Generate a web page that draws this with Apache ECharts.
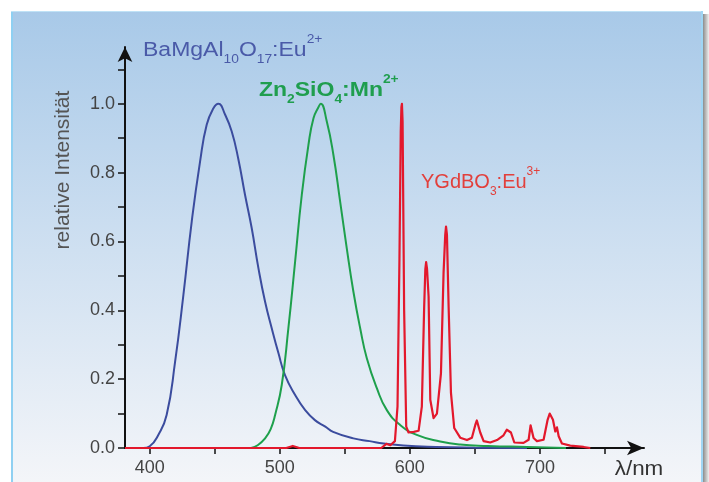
<!DOCTYPE html>
<html>
<head>
<meta charset="utf-8">
<script src="https://cdn.jsdelivr.net/npm/echarts@6/dist/echarts.min.js"></script>
<style>
html,body{margin:0;padding:0;background:#fff;}
#spektrum{width:709px;height:482px;}
</style>
</head>
<body>
<div id="spektrum"></div>
<script>
// BaMgAl10O17:Eu2+ (blau)
var blueNm=[395,400,406.6,413,419.5,425.9,432.3,438.7,443.8,449,452.8,458,463,468,473.3,478.4,483.6,488.7,493.8,499,504,511.8,519.5,527,535,541,556.6,569,580,595,620,650,690];
var blueVal=[0,0.005,0.038,0.096,0.25,0.445,0.658,0.832,0.939,0.987,1.0,0.968,0.92,0.842,0.735,0.639,0.522,0.425,0.348,0.275,0.212,0.154,0.11,0.081,0.062,0.047,0.028,0.02,0.013,0.007,0.003,0.001,0];
// Zn2SiO4:Mn2+ (gruen)
var greenNm=[478,483,488.7,493,496.4,501.5,506.6,511.8,516.9,522,525.9,529.7,531.5,536.1,541.2,546.4,551.5,556.6,561.8,566.9,574.6,582.3,592.5,605.3,623.3,638.7,660,690,720];
var greenVal=[0,0.008,0.028,0.055,0.096,0.183,0.348,0.542,0.735,0.88,0.958,0.99,1.0,0.949,0.852,0.716,0.58,0.454,0.348,0.261,0.174,0.11,0.067,0.038,0.019,0.01,0.006,0.003,0];
// YGdBO3:Eu3+ (rot)
var redNm=[381,505,510,515,578,582,585,588.5,590.5,592,593,593.5,593.9,594.4,595.6,597.2,599,603,606.7,609.2,611,611.9,612.5,613.2,614.4,615.7,618.2,620.8,623.9,625.9,627.2,627.8,628.5,629.8,631.6,634.1,638.7,643.9,647.7,650.3,651.5,652.4,654.1,656.7,661.8,667,672,674.5,675.8,677.7,680.3,687.4,691.3,692.8,693.6,695.1,697.7,702.8,705.9,707.5,708.5,710,711.8,713.1,714.4,716.9,723.3,733.6,738.7];
var redVal=[0,0,0.006,0,0,0.012,0.008,0.02,0.12,0.55,0.92,0.99,1.0,0.95,0.4,0.062,0.045,0.047,0.05,0.12,0.41,0.52,0.54,0.52,0.44,0.14,0.087,0.1,0.217,0.508,0.62,0.643,0.62,0.41,0.16,0.058,0.03,0.023,0.03,0.067,0.08,0.082,0.045,0.02,0.016,0.023,0.037,0.053,0.056,0.045,0.016,0.015,0.024,0.066,0.07,0.029,0.02,0.024,0.082,0.1,0.102,0.082,0.048,0.06,0.034,0.013,0.007,0.003,0];

var xTicks=[400,450,500,550,600,650,700,750];
var xLabels=[400,500,600,700];
var yTicks=[0,0.1,0.2,0.3,0.4,0.5,0.6,0.7,0.8,0.9,1.0,1.1];
var yLabels=[0,0.2,0.4,0.6,0.8,1.0];

function pairs(xs,ys){
	var out=[];
	for(var i=0;i<xs.length;i++){ out.push([xs[i],ys[i]]); }
	return out;
}

var spektrum=echarts.init(document.getElementById('spektrum'));

// rich text styles for formulas with sub/superscripts
function formelRich(color,weight){
	return {
		m:{fontSize:20,fontFamily:'Liberation Sans',fontWeight:weight,fill:color,lineHeight:32,verticalAlign:'middle'},
		sub:{fontSize:12,fontFamily:'Liberation Sans',fontWeight:weight,fill:color,lineHeight:12,verticalAlign:'bottom'},
		sup:{fontSize:12,fontFamily:'Liberation Sans',fontWeight:weight,fill:color,lineHeight:18,verticalAlign:'top'}
	};
}

var spektrum_option={
	animation:false,
	graphic:[
		{
			type:'rect', z:-10, silent:true,
			shape:{x:11,y:11,width:692,height:480},
			style:{fill:{type:'linear',x:0,y:0,x2:0,y2:1,colorStops:[
				{offset:0,color:'#a8c9e8'},
				{offset:0.5,color:'#cfe0f1'},
				{offset:1,color:'#f5f6f9'}
			]}}
		},
		{type:'rect', z:-9, silent:true, shape:{x:11,y:11,width:2,height:480}, style:{fill:'#8fd0f2'}},
		{type:'rect', z:-9, silent:true, shape:{x:11,y:11,width:692,height:1}, style:{fill:'#bfe2f6'}},
		{type:'rect', z:-9, silent:true, shape:{x:701,y:11,width:2,height:480}, style:{fill:'#9fd6f4'}},
		{
			type:'rect', z:-9, silent:true,
			shape:{x:703,y:14,width:6,height:477},
			style:{fill:{type:'linear',x:0,y:0,x2:1,y2:0,colorStops:[
				{offset:0,color:'#8c8c8c'},
				{offset:1,color:'#f0f0f0'}
			]}}
		},
		{
			type:'text', x:143, y:34, scaleX:1.15,
			style:{text:'{m|BaMgAl}{sub|10}{m|O}{sub|17}{m|:Eu}{sup|2+}',rich:formelRich('#4a5aa8','normal'),fill:'#4a5aa8',align:'left',verticalAlign:'top'}
		},
		{
			type:'text', x:259, y:74, scaleX:1.15,
			style:{text:'{m|Zn}{sub|2}{m|SiO}{sub|4}{m|:Mn}{sup|2+}',rich:formelRich('#1f9e4e','bold'),fill:'#1f9e4e',align:'left',verticalAlign:'top'}
		},
		{
			type:'text', x:421, y:166, scaleX:1.0,
			style:{text:'{m|YGdBO}{sub|3}{m|:Eu}{sup|3+}',rich:formelRich('#e2403c','normal'),fill:'#e2403c',align:'left',verticalAlign:'top'}
		},
		{
			type:'text', x:63, y:170, rotation:Math.PI/2,
			style:{text:'relative Intensität',font:'21px "Liberation Sans"',fill:'#555',align:'center',verticalAlign:'middle'}
		},
		{
			type:'text', x:639, y:469, scaleX:1.12,
			style:{text:'λ/nm',font:'20px "Liberation Sans"',fill:'#333',align:'center',verticalAlign:'middle'}
		}
	],
	grid:{
		left:125,
		right:65,
		top:47,
		bottom:34,
		containLabel:false
	},
	xAxis:{
		type:'value',
		min:381,
		max:780,
		axisLine:{
			show:true,
			symbol:['none','arrow'],
			symbolSize:[11,17],
			lineStyle:{color:'#111',width:2}
		},
		axisTick:{
			show:true,
			customValues:xTicks,
			length:6,
			lineStyle:{color:'#111',width:1.5}
		},
		axisLabel:{
			customValues:xLabels,
			margin:11,
			color:'#444',
			fontSize:18,
			fontFamily:'Liberation Sans'
		},
		splitLine:{show:false}
	},
	yAxis:{
		type:'value',
		min:0,
		max:1.165,
		axisLine:{
			show:true,
			symbol:['none','arrow'],
			symbolSize:[11,15],
			lineStyle:{color:'#111',width:2}
		},
		axisTick:{
			show:true,
			customValues:yTicks,
			length:7,
			lineStyle:{color:'#111',width:1.5}
		},
		axisLabel:{
			customValues:yLabels,
			margin:10,
			color:'#444',
			fontSize:18,
			fontFamily:'Liberation Sans',
			formatter:function(v){ return v.toFixed(1); }
		},
		splitLine:{show:false}
	},
	series:[
		{
			name:'BaMgAl10O17:Eu2+',
			type:'line',
			showSymbol:false,
			smooth:0.5,
			lineStyle:{color:'#3b4c9e',width:2},
			data:pairs(blueNm,blueVal)
		},
		{
			name:'Zn2SiO4:Mn2+',
			type:'line',
			showSymbol:false,
			smooth:0.5,
			lineStyle:{color:'#1ea04c',width:2},
			data:pairs(greenNm,greenVal)
		},
		{
			name:'YGdBO3:Eu3+',
			type:'line',
			showSymbol:false,
			smooth:false,
			lineStyle:{color:'#e3182c',width:2.2,join:'round'},
			data:pairs(redNm,redVal)
		}
	]
};
spektrum.setOption(spektrum_option);
</script>
</body>
</html>
